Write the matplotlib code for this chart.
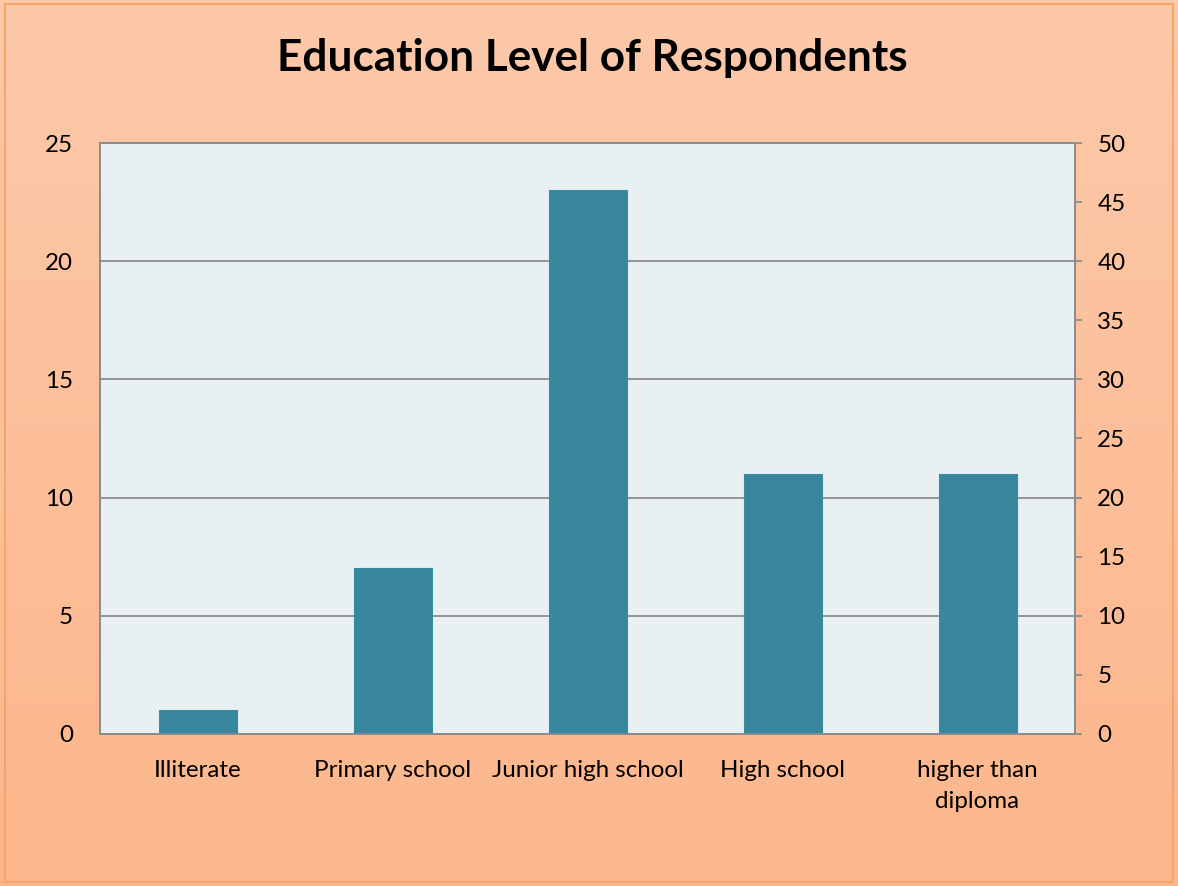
import numpy as np
import matplotlib
matplotlib.use("Agg")
import matplotlib.pyplot as plt
from matplotlib.colors import LinearSegmentedColormap
from matplotlib.patches import Rectangle

categories = ["Illiterate", "Primary school", "Junior high school", "High school", "higher than\ndiploma"]
counts = [1, 7, 23, 11, 11]
left_ticks = [0, 5, 10, 15, 20, 25]
right_ticks = [0, 5, 10, 15, 20, 25, 30, 35, 40, 45, 50]

plt.rcParams['font.family'] = ['Lato', 'DejaVu Sans']

fig = plt.figure(figsize=(11.78, 8.86), dpi=100)

# gradient background
bg = fig.add_axes([0, 0, 1, 1], zorder=-10)
cmap = LinearSegmentedColormap.from_list("peach", ["#FCC9AA", "#FDB68B"])
grad = np.linspace(0, 1, 256).reshape(-1, 1)
bg.imshow(grad, aspect="auto", cmap=cmap, extent=[0, 1, 0, 1], origin="upper")
bg.set_axis_off()
fig.patches.append(Rectangle((0.004, 0.004), 0.992, 0.991, transform=fig.transFigure,
                             fill=False, edgecolor="#F7A468", linewidth=1.5))

ax = fig.add_axes([0.0849, 0.1716, 0.8277, 0.667])
ax.set_facecolor("#E8F0F4")
x = np.arange(len(categories))
ax.bar(x, counts, width=0.4, color="#38869B", edgecolor="#3A8CA0", linewidth=0.8, zorder=3)
ax.set_xlim(-0.5, len(categories) - 0.5)
ax.set_ylim(0, 25)
ax.set_yticks(left_ticks)
ax.set_xticks(x)
ax.set_xticklabels(categories, fontsize=17.4, linespacing=1.55)
ax.tick_params(axis="x", length=0, pad=19)
ax.tick_params(axis="y", length=0, pad=19.5, labelsize=17.4)
ax.grid(axis="y", color="#8C8C8C", linewidth=1.3, zorder=1)
for s in ax.spines.values():
    s.set_color("#8C8C8C")
    s.set_linewidth(1.3)

ax2 = ax.twinx()
ax2.set_ylim(0, 50)
ax2.set_yticks(right_ticks)
ax2.tick_params(axis="y", length=5, width=1.3, color="#8C8C8C", pad=11, labelsize=17.4)
for s in ax2.spines.values():
    s.set_color("#8C8C8C")
    s.set_linewidth(1.3)

fig.text(0.503, 0.935, "Education Level of Respondents", ha="center", va="center",
         fontsize=31.8, fontweight="bold")

fig.savefig("out.png", dpi=100)
